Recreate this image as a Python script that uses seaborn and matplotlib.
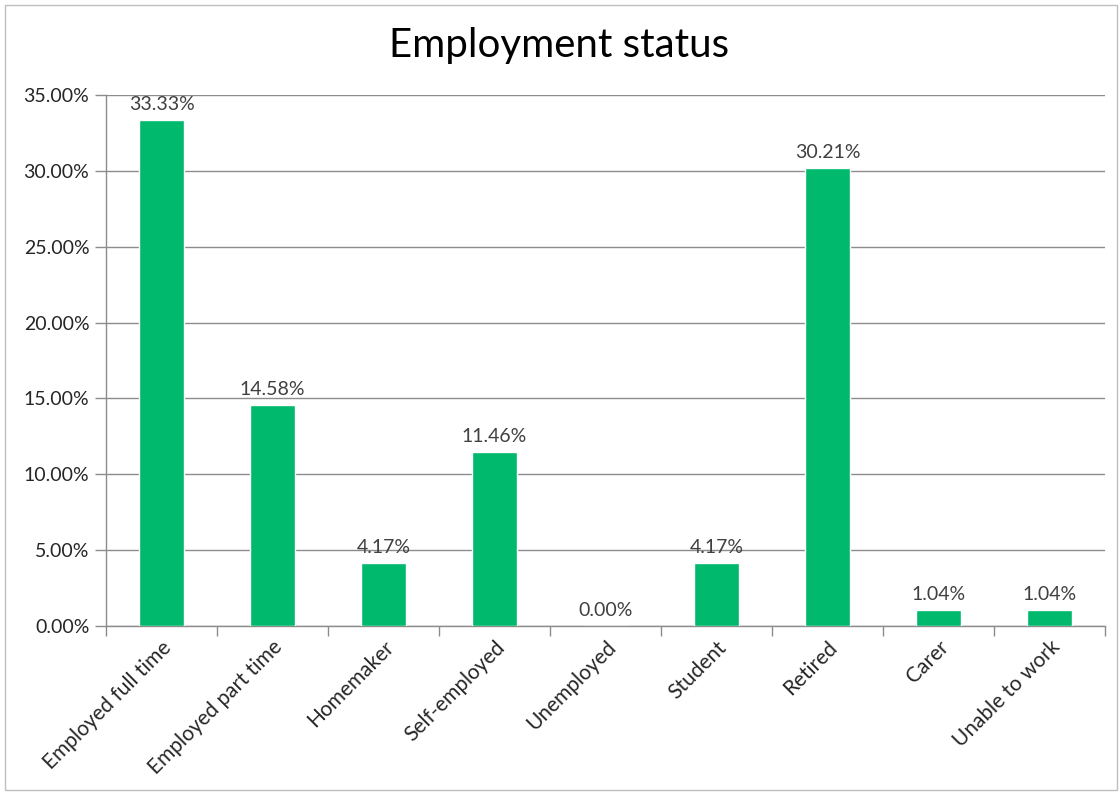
import matplotlib
matplotlib.use("Agg")
import matplotlib.pyplot as plt
import seaborn as sns
import pandas as pd
from matplotlib.patches import Rectangle
from matplotlib.ticker import FuncFormatter, MultipleLocator, FixedLocator

categories = ["Employed full time", "Employed part time", "Homemaker", "Self-employed",
              "Unemployed", "Student", "Retired", "Carer", "Unable to work"]
values = [33.33, 14.58, 4.17, 11.46, 0.00, 4.17, 30.21, 1.04, 1.04]
title = "Employment status"

df = pd.DataFrame({"category": categories, "value": values})

sns.set_theme(style="white")
plt.rcParams["font.family"] = ["Lato", "DejaVu Sans"]

fig = plt.figure(figsize=(11.19, 7.92), dpi=100)
ax = fig.add_axes([106/1119, 1-626/792, (1105-106)/1119, (626-95)/792])

bar_color = "#00B96C"
sns.barplot(data=df, x="category", y="value", color=bar_color, width=0.41,
            saturation=1, ax=ax, zorder=3)

ax.set_ylim(0, 35)
ax.set_xlim(-0.5, len(categories) - 0.5)
ax.yaxis.set_major_locator(MultipleLocator(5))
ax.yaxis.set_major_formatter(FuncFormatter(lambda v, p: f"{v:.2f}%"))
ax.grid(axis="y", color="#8c8c8c", linewidth=1.0, zorder=0)
ax.set_axisbelow(True)

for s in ["top", "right"]:
    ax.spines[s].set_visible(False)
for s in ["left", "bottom"]:
    ax.spines[s].set_color("#8c8c8c")
    ax.spines[s].set_linewidth(1.0)

ax.set_xlabel("")
ax.set_ylabel("")
ax.tick_params(axis="y", labelsize=14, colors="#8c8c8c", labelcolor="#262626",
               length=8, width=1, direction="out", left=True, pad=4)
ax.set_xticks(range(len(categories)))
ax.set_xticklabels(categories, rotation=45, ha="right", rotation_mode="anchor",
                   fontsize=15, color="#262626")
ax.tick_params(axis="x", length=0, pad=8)
ax.xaxis.set_minor_locator(FixedLocator([i + 0.5 for i in range(-1, len(categories))]))
ax.tick_params(axis="x", which="minor", length=7, width=1, color="#8c8c8c",
               direction="out", bottom=True)

for i, v in enumerate(values):
    ax.annotate(f"{v:.2f}%", (i, v), xytext=(0, 5), textcoords="offset points",
                ha="center", va="bottom", fontsize=14, color="#404040")

fig.text(0.5, 1 - 45/792, title, ha="center", va="center", fontsize=29, color="#000000")

fig.patches.append(Rectangle((5/1119, 0.002), 1 - 7/1119, 1 - 7/792,
                             transform=fig.transFigure, fill=False,
                             edgecolor="#bfbfbf", linewidth=1.0))

fig.savefig("out.png", dpi=100)
